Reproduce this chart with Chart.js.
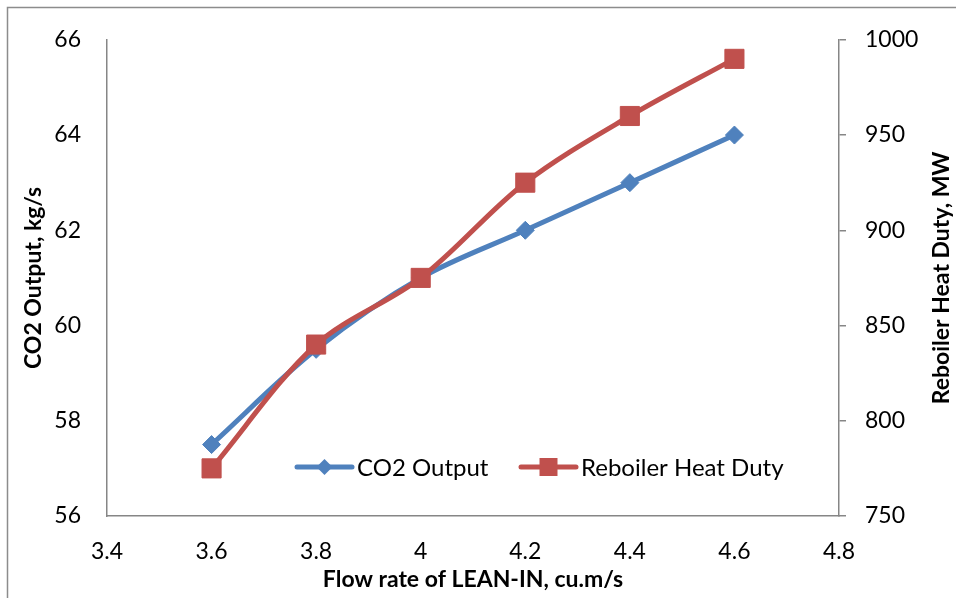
<!DOCTYPE html>
<html>
<head>
<meta charset="utf-8">
<script src="https://cdn.jsdelivr.net/npm/chart.js@4/dist/chart.umd.min.js"></script>
<style>
  html, body { margin: 0; padding: 0; background: #fff; }
  #wrap { width: 956px; height: 598px; }
</style>
</head>
<body>
<div id="wrap"><canvas id="c" width="956" height="598"></canvas></div>
<script>
// Flow rate of LEAN-IN (cu.m/s)
const flowRates = [3.6, 3.8, 4.0, 4.2, 4.4, 4.6];
// CO2 output (kg/s), left axis
const co2Output = [57.5, 59.5, 61, 62, 63, 64];
// Reboiler heat duty (MW), right axis
const reboilerDuty = [775, 840, 875, 925, 960, 990];

const seriesNames = ['CO2 Output', 'Reboiler Heat Duty'];
const xTitle = 'Flow rate of LEAN-IN, cu.m/s';
const yLeftTitle = 'CO2 Output, kg/s';
const yRightTitle = 'Reboiler Heat Duty, MW';

const BLUE = '#4F81BD';
const RED = '#C0504D';
const AXIS = '#868686';
const FONT = 'Lato';
const TICK_FONT = { family: FONT, size: 23 };
const LEGEND_SIZE = 24;
const TITLE_FONT = { family: FONT, size: 23, weight: 'bold' };

const toPoints = (ys) => flowRates.map((x, i) => ({ x, y: ys[i] }));

// Outer frame and white background
const framePlugin = {
  id: 'frame',
  beforeDraw(chart) {
    const ctx = chart.ctx;
    ctx.save();
    ctx.fillStyle = '#fff';
    ctx.fillRect(0, 0, chart.width, chart.height);
    ctx.strokeStyle = '#8c8c8c';
    ctx.lineWidth = 1.5;
    ctx.strokeRect(7.5, 7.5, chart.width + 100, chart.height + 100);
    ctx.restore();
  }
};

// Right axis title reads bottom-to-top, like the left one
const rightTitlePlugin = {
  id: 'rightTitle',
  afterDraw(chart) {
    const ctx = chart.ctx;
    const area = chart.chartArea;
    ctx.save();
    ctx.translate(942, (area.top + area.bottom) / 2);
    ctx.rotate(-Math.PI / 2);
    ctx.font = `bold ${TITLE_FONT.size}px ${FONT}`;
    ctx.fillStyle = '#000';
    ctx.textAlign = 'center';
    ctx.textBaseline = 'middle';
    ctx.fillText(yRightTitle, 0, 0);
    ctx.restore();
  }
};

// Legend drawn inside the plot area, near its bottom
const innerLegendPlugin = {
  id: 'innerLegend',
  afterDraw(chart) {
    const ctx = chart.ctx;
    const y = 467;
    const entries = [
      { x0: 297, x1: 352, text: 357 },
      { x0: 521, x1: 576, text: 581 }
    ];
    ctx.save();
    chart.data.datasets.forEach((ds, i) => {
      const e = entries[i];
      const mx = (e.x0 + e.x1) / 2;
      ctx.strokeStyle = ds.borderColor;
      ctx.lineWidth = ds.borderWidth;
      ctx.lineCap = 'round';
      ctx.beginPath();
      ctx.moveTo(e.x0, y);
      ctx.lineTo(e.x1, y);
      ctx.stroke();
      ctx.fillStyle = ds.pointBackgroundColor;
      ctx.beginPath();
      if (ds.pointStyle === 'rectRot') {
        const r = 8;
        ctx.moveTo(mx, y - r);
        ctx.lineTo(mx + r, y);
        ctx.lineTo(mx, y + r);
        ctx.lineTo(mx - r, y);
        ctx.closePath();
      } else {
        ctx.rect(mx - 9, y - 9, 18, 18);
      }
      ctx.fill();
      ctx.fillStyle = '#000';
      ctx.font = `${LEGEND_SIZE}px ${FONT}`;
      ctx.textAlign = 'left';
      ctx.textBaseline = 'middle';
      ctx.fillText(ds.label, e.text, y + 1);
    });
    ctx.restore();
  }
};

new Chart(document.getElementById('c'), {
  type: 'line',
  data: {
    datasets: [
      {
        label: seriesNames[0],
        data: toPoints(co2Output),
        yAxisID: 'y',
        borderColor: BLUE,
        backgroundColor: BLUE,
        pointBackgroundColor: BLUE,
        pointBorderColor: BLUE,
        borderWidth: 5,
        pointStyle: 'rectRot',
        pointRadius: 9,
        pointBorderWidth: 1,
        tension: 0.33,
        order: 2
      },
      {
        label: seriesNames[1],
        data: toPoints(reboilerDuty),
        yAxisID: 'y1',
        borderColor: RED,
        backgroundColor: RED,
        pointBackgroundColor: RED,
        pointBorderColor: RED,
        borderWidth: 5,
        pointStyle: 'rect',
        pointRadius: 13.5,
        pointBorderWidth: 1,
        tension: 0.33,
        order: 1
      }
    ]
  },
  options: {
    responsive: false,
    animation: false,
    layout: { padding: { top: 38, left: 0, right: 0, bottom: 0 } },
    plugins: {
      legend: { display: false },
      tooltip: { enabled: false }
    },
    scales: {
      x: {
        type: 'linear',
        position: 'bottom',
        min: 3.4,
        max: 4.8,
        afterFit(s) { s.height = 82; },
        ticks: {
          stepSize: 0.2,
          padding: 22,
          color: '#000',
          font: TICK_FONT,
          callback: (v) => String(parseFloat(Number(v).toFixed(1)))
        },
        grid: { display: false, drawTicks: false },
        border: { display: true, color: AXIS, width: 1.5 },
        title: {
          display: true,
          text: xTitle,
          color: '#000',
          font: TITLE_FONT,
          padding: { top: 0, bottom: 5 }
        }
      },
      y: {
        type: 'linear',
        position: 'left',
        min: 56,
        max: 66,
        afterFit(s) { s.width = 107; },
        ticks: { stepSize: 2, padding: 26, color: '#000', font: TICK_FONT },
        grid: { display: false, drawTicks: false },
        border: { display: true, color: AXIS, width: 1.5 },
        title: {
          display: true,
          text: yLeftTitle,
          color: '#000',
          font: TITLE_FONT,
          padding: { top: 20, bottom: 0 }
        }
      },
      y1: {
        type: 'linear',
        position: 'right',
        min: 750,
        max: 1000,
        afterFit(s) { s.width = 117; },
        ticks: {
          stepSize: 50,
          padding: 19,
          color: '#000',
          font: TICK_FONT,
          callback: (v) => String(v)
        },
        grid: {
          display: true,
          drawOnChartArea: false,
          drawTicks: true,
          tickLength: 7,
          color: AXIS,
          lineWidth: 1.5
        },
        border: { display: true, color: AXIS, width: 1.5 },
        title: { display: false }
      }
    }
  },
  plugins: [framePlugin, rightTitlePlugin, innerLegendPlugin]
});
</script>
</body>
</html>
